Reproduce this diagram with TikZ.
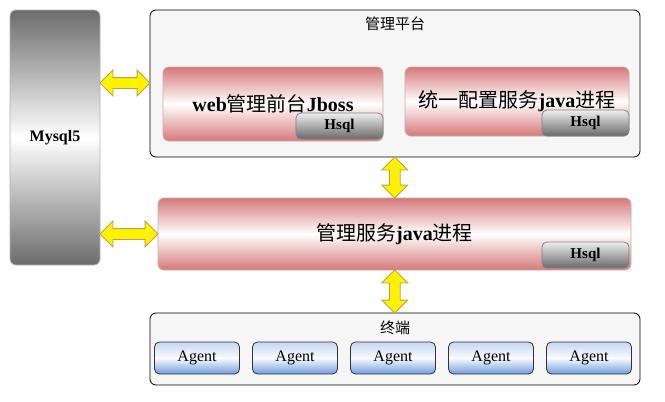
\documentclass[tikz,border=0pt]{standalone}
\usepackage{fontspec}
\setmainfont{Liberation Serif}
\newfontfamily\cjk{Noto Sans CJK SC}
\usetikzlibrary{shapes.arrows,positioning,calc}
\newcommand{\zh}[1]{{\cjk\mdseries #1}}
\definecolor{panelgray}{RGB}{246,246,246}
\definecolor{procred}{RGB}{214,120,120}
\definecolor{procline}{RGB}{200,170,170}
\definecolor{dbtop}{RGB}{238,238,238}
\definecolor{dbbot}{RGB}{105,105,105}
\definecolor{mysqlgray}{RGB}{108,108,108}
\definecolor{agenttop}{RGB}{196,214,242}
\definecolor{agentbot}{RGB}{112,156,222}
\definecolor{arrowline}{RGB}{190,160,70}
\tikzset{x=1pt, y=-1pt,
        panel/.style={ % outer frames
            draw=black, line width=0.8pt,
            fill=panelgray, rounded corners=6pt},
        proc/.style={ % red process boxes
            draw=procline, line width=0.8pt, rounded corners=6pt,
            top color=procred, bottom color=procred, middle color=white,
            font=\bfseries\fontsize{20}{22}\selectfont},
        hsqlbox/.style={ % small database tag
            draw=gray, line width=0.8pt, rounded corners=5pt,
            top color=dbtop, bottom color=dbbot,
            minimum width=87pt, minimum height=26pt, inner sep=0pt,
            font=\bfseries\fontsize{15}{17}\selectfont},
        agentbox/.style={
            draw=black!80, line width=0.8pt, rounded corners=5pt,
            top color=agenttop, bottom color=agentbot, middle color=white!90!agenttop,
            minimum width=85pt, minimum height=32pt, inner sep=0pt,
            font=\fontsize{16}{18}\selectfont},
        biarrow/.style={ % yellow block arrows
            double arrow, draw=arrowline, fill=yellow, line width=0.8pt,
            inner sep=5pt, minimum width=25pt, double arrow head extend=7.5pt},
        title/.style={font=\fontsize{15}{17}\selectfont}
        }
\begin{document}
\begin{tikzpicture}
    \useasboundingbox (0,0) rectangle (665,402);

    % database column
    \node[draw=gray!60, line width=0.8pt, rounded corners=6pt,
          top color=mysqlgray, bottom color=mysqlgray, middle color=white,
          minimum width=90pt, minimum height=255pt,
          font=\bfseries\fontsize{16}{18}\selectfont] (mysql) at (55,137.5) {Mysql5};

    % management platform
    \node[panel, minimum width=490pt, minimum height=147pt] (plat) at (395,83.5) {};
    \node[title] (plattitle) at ($(plat.north)+(0,14)$) {\zh{管理平台}};

    \node[proc, minimum width=220pt, minimum height=74pt] (web) at (273,104) {web\zh{管理前台}Jboss};
    \node[hsqlbox, anchor=south east] (webdb) at ($(web.south east)+(0,-2)$) {Hsql};

    \node[proc, minimum width=224pt, minimum height=69pt] (cfg) at (517,101.5) {\zh{统一配置服务}java\zh{进程}};
    \node[hsqlbox, anchor=south east] (cfgdb) at (cfg.south east) {Hsql};

    % management service
    \node[proc, minimum width=473pt, minimum height=72pt] (svc) at (394.5,234) {\zh{管理服务}java\zh{进程}};
    \node[hsqlbox, anchor=south east] (svcdb) at ($(svc.south east)+(-2,-2)$) {Hsql};

    % terminals
    \node[panel, minimum width=490pt, minimum height=72pt] (term) at (395,349) {};
    \node[title] (termtitle) at ($(term.north)+(0,15)$) {\zh{终端}};
    \foreach \x [count=\i] in {197,295,393,491,589}
        \node[agentbox] (agent\i) at (\x,358) {Agent};

    % arrows
    \node[biarrow, minimum height=50pt] (a1) at ($(mysql.east |- 0,83)!0.5!(plat.west |- 0,83)$) {};
    \node[biarrow, minimum height=58pt] (a2) at ($(mysql.east |- svc.west)!0.5!(svc.west)$) {};
    \node[biarrow, minimum height=41pt, shape border rotate=90] (a3) at ($(plat.south)!0.5!(svc.north)$) {};
    \node[biarrow, minimum height=43pt, shape border rotate=90] (a4) at ($(svc.south)!0.5!(term.north)$) {};
\end{tikzpicture}
\end{document}
